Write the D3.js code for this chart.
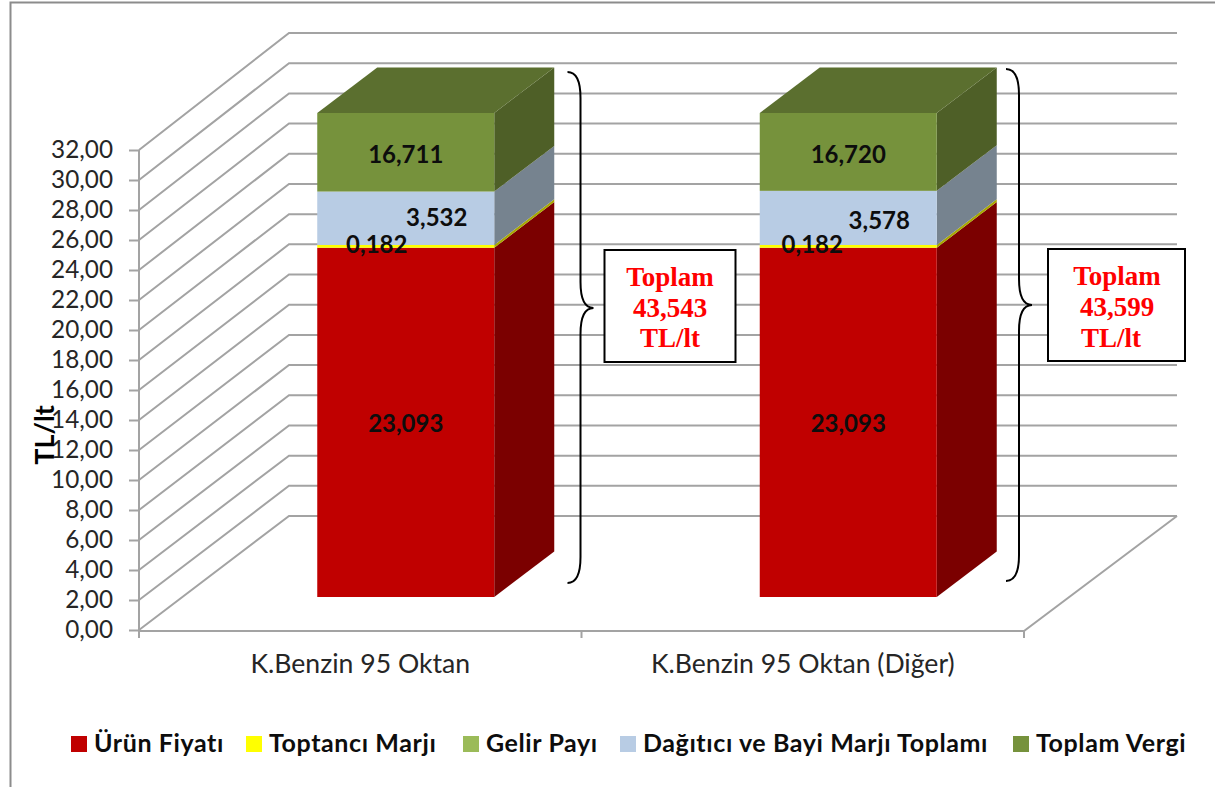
<!DOCTYPE html>
<html>
<head>
<meta charset="utf-8">
<script src="https://cdn.jsdelivr.net/npm/d3@7"></script>
<style>
  html, body { margin: 0; padding: 0; background: #fff; }
  svg { display: block; }
  text { font-family: Lato, "Open Sans", sans-serif; }
</style>
</head>
<body>
<div id="chart"></div>
<script>
// values
const categories = ["K.Benzin 95 Oktan", "K.Benzin 95 Oktan (Diğer)"];
const seriesNames = ["Ürün Fiyatı", "Toptancı Marjı", "Gelir Payı", "Dağıtıcı ve Bayi Marjı Toplamı", "Toplam Vergi"];
const urunFiyati = [23.093, 23.093];
const toptanciMarji = [0.182, 0.182];
const gelirPayi = [0, 0];
const dagiticiMarji = [3.532, 3.578];
const toplamVergi = [16.711, 16.720];
const totals = ["43,543", "43,599"];
const yTicks = d3.range(0, 33, 2);

const seriesValues = [urunFiyati, toptanciMarji, gelirPayi, dagiticiMarji, toplamVergi];
const legendColors = ["#C00000", "#FFFF00", "#9BBB59", "#B8CCE4", "#76923C"];
const sideColors = ["#7B0000", "#A8A800", "#5F7A30", "#76838F", "#4E5F27"];
const topColor = "#5B6F2F";
const gridColor = "#A3A3A3";

const width = 1215, height = 787;

const svg = d3.select("#chart").append("svg")
    .attr("width", width)
    .attr("height", height);

// outer frame, only the top and left edges are in the crop
svg.append("path")
    .attr("d", "M10.5,787V2.5H1215")
    .attr("fill", "none")
    .attr("stroke", "#8C8C8C")
    .attr("stroke-width", 2);

// scales: front of the wall, back of the wall, and the bars that stand in between
const yFront = d3.scaleLinear().domain([0, 32]).range([630, 150]);
const yBack = d3.scaleLinear().domain([0, 32]).range([516, 33]);
const yBar = d3.scaleLinear().domain([0, 32]).range([597, 113]).clamp(true);

// the axis runs 139-1024, the bars sit a touch to the right of it
const xAxisScale = d3.scaleBand().domain(categories).range([139, 1024]);
const x = d3.scaleBand()
    .domain(categories)
    .range([141, 1026])
    .paddingInner(0.6)
    .paddingOuter(0.3);

// depth of the floor: 0 front, 1 back
const depthX = d3.scaleLinear().domain([0, 1]).range([0, 150]);
const depthY = d3.scaleLinear().domain([0, 1]).range([0, -114]);
const barFront = 0.29, barBack = 0.69;

const grid = svg.append("g")
    .attr("fill", "none")
    .attr("stroke", gridColor)
    .attr("stroke-width", 2);

// gridlines over the left wall and the back wall
grid.selectAll("path.wall")
    .data(yTicks)
    .join("path")
    .attr("class", "wall")
    .attr("d", d => `M139,${yFront(d)}L${139 + depthX(1)},${yBack(d)}H1177`);

// floor
grid.append("path")
    .attr("d", `M139,631H1024L1177,${yBack(0)}`);

// y axis
const yAxis = svg.append("g")
    .attr("transform", "translate(139,0)")
    .call(d3.axisLeft(yFront)
        .tickValues(yTicks)
        .tickSize(10)
        .tickPadding(16)
        .tickFormat(d => d3.format(".2f")(d).replace(".", ",")));
yAxis.selectAll("path, line").attr("stroke", gridColor).attr("stroke-width", 2);
yAxis.select(".domain").attr("d", "M0,150V638");
yAxis.selectAll("text")
    .attr("fill", "#262626")
    .attr("font-size", 24.3)
    .style("font-family", "Lato");

// x axis: labels sit on the band centre, ticks on the band edges
const xAxis = svg.append("g")
    .attr("transform", "translate(0,631)")
    .call(d3.axisBottom(xAxisScale).tickSize(0).tickPadding(23));
xAxis.select(".domain").remove();
xAxis.selectAll("text")
    .attr("fill", "#262626")
    .attr("font-size", 26.6)
    .style("font-family", "Lato");

svg.append("g")
    .selectAll("line")
    .data([0, 1, 2])
    .join("line")
    .attr("x1", d => 139 + xAxisScale.step() * d)
    .attr("x2", d => 139 + xAxisScale.step() * d)
    .attr("y1", 631)
    .attr("y2", 638)
    .attr("stroke", gridColor)
    .attr("stroke-width", 2);

// stacked 3d bars
const stacks = categories.map((c, i) => {
    let sum = 0;
    return seriesValues.map((s, k) => {
        const seg = {cat: c, k, y0: sum, y1: sum + s[i]};
        sum = seg.y1;
        return seg;
    }).filter(seg => seg.y1 > seg.y0);
});

const dxF = depthX(barFront), dxB = depthX(barBack);
const dyD = depthY(barBack) - depthY(barFront);

const bars = svg.append("g")
    .selectAll("g")
    .data(stacks)
    .join("g");

// right side faces
bars.selectAll("path.side")
    .data(d => d)
    .join("path")
    .attr("class", "side")
    .attr("fill", d => sideColors[d.k])
    .attr("d", d => {
        const r = x(d.cat) + x.bandwidth() + dxF;
        return `M${r},${yBar(d.y0)}V${yBar(d.y1)}L${r + dxB - dxF},${yBar(d.y1) + dyD}V${yBar(d.y0) + dyD}Z`;
    });

// top face, the bar is cut off at the axis maximum
bars.append("path")
    .attr("fill", topColor)
    .attr("d", d => {
        const l = x(d[0].cat) + dxF;
        const w = x.bandwidth();
        const t = yBar(32);
        return `M${l},${t}H${l + w}L${l + w + dxB - dxF},${t + dyD}H${l + dxB - dxF}Z`;
    });

// front faces
bars.selectAll("rect")
    .data(d => d)
    .join("rect")
    .attr("x", d => x(d.cat) + dxF)
    .attr("width", x.bandwidth())
    .attr("y", d => yBar(d.y1))
    .attr("height", d => yBar(d.y0) - yBar(d.y1))
    .attr("fill", d => legendColors[d.k]);

// value labels, shifted by hand like in the original
const labelShift = [
    {k: 0, dx: [0, 0], y: [424, 424]},
    {k: 1, dx: [-29, -36], y: [245, 245]},
    {k: 3, dx: [31, 31], y: [218, 221]},
    {k: 4, dx: [0, 0], y: [155, 155]}
];
categories.forEach((c, i) => {
    svg.append("g").selectAll("text")
        .data(labelShift)
        .join("text")
        .attr("x", d => x(c) + dxF + x.bandwidth() / 2 + d.dx[i])
        .attr("y", d => d.y[i])
        .attr("dy", "0.35em")
        .attr("text-anchor", "middle")
        .attr("font-size", 24)
        .attr("font-weight", "bold")
        .attr("fill", "#0D0D0D")
        .text(d => seriesValues[d.k][i].toFixed(3).replace(".", ","));
});

// curly braces and total boxes
const braceRight = [580.5, 1019];
const braceTop = [72, 69], braceBottom = [583, 581], braceMid = [308, 305];
const boxLeft = [604.5, 1048];
const boxWidth = [131, 137];
const boxTextX = [670, 1117];
const lastLineX = [670, 1111];
categories.forEach((c, i) => {
    const sx = braceRight[i];
    const top = braceTop[i], bottom = braceBottom[i], mid = braceMid[i];
    const r = 13;
    const b = svg.append("g");
    b.append("path")
        .attr("fill", "none")
        .attr("stroke", "#000")
        .attr("stroke-width", 2)
        .attr("d", `M${sx - r},${top}Q${sx},${top} ${sx},${top + 26}`
            + `V${mid - 26}Q${sx},${mid} ${sx + r},${mid}Q${sx},${mid} ${sx},${mid + 26}`
            + `V${bottom - 26}Q${sx},${bottom} ${sx - r},${bottom}`);

    b.append("rect")
        .attr("x", boxLeft[i])
        .attr("y", 250 - i)
        .attr("width", boxWidth[i])
        .attr("height", 112)
        .attr("fill", "#fff")
        .attr("stroke", "#000")
        .attr("stroke-width", 2);

    b.selectAll("text")
        .data(["Toplam", totals[i], "TL/lt"])
        .join("text")
        .attr("x", (d, j) => j === 2 ? lastLineX[i] : boxTextX[i])
        .attr("y", (d, j) => 286 + j * 30.5 - (j < 2 ? i : 0))
        .attr("text-anchor", "middle")
        .attr("font-size", 27)
        .attr("font-weight", "bold")
        .attr("fill", "#FF0000")
        .style("font-family", "'Liberation Serif'")
        .text(d => d);
});

// y axis title
svg.append("text")
    .attr("transform", "translate(54,435) rotate(-90)")
    .attr("text-anchor", "middle")
    .attr("font-size", 27)
    .attr("font-weight", "bold")
    .attr("fill", "#000")
    .text("TL/lt");

// legend
const legendSwatch = [71, 246, 463, 620, 1013];
const legend = svg.append("g")
    .selectAll("g")
    .data(seriesNames)
    .join("g")
    .attr("transform", (d, i) => `translate(${legendSwatch[i]},736)`);

legend.append("rect")
    .attr("width", 16)
    .attr("height", 16)
    .attr("fill", (d, i) => legendColors[i]);

legend.append("text")
    .attr("x", 23)
    .attr("y", 16)
    .attr("font-size", 25)
    .attr("letter-spacing", 0.6)
    .attr("font-weight", "bold")
    .attr("fill", "#0D0D0D")
    .text(d => d);
</script>
</body>
</html>
